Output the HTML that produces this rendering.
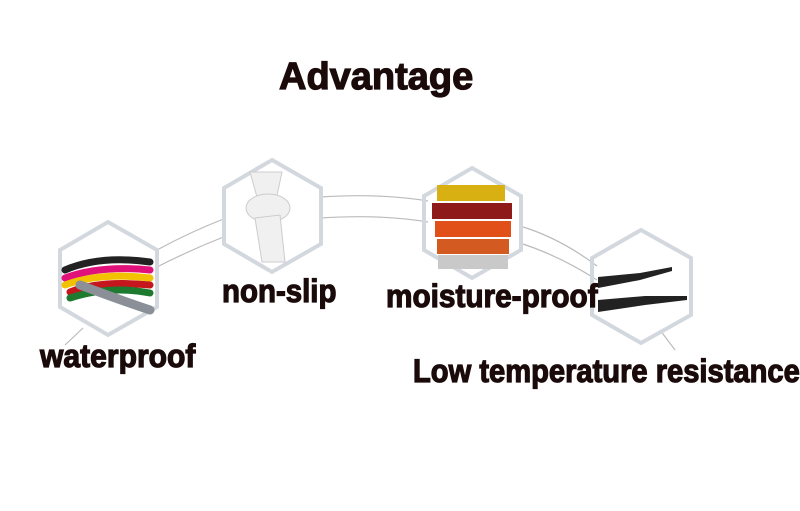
<!DOCTYPE html>
<html><head><style>
body{margin:0;width:800px;height:511px;background:#fff;overflow:hidden;position:relative;font-family:"Liberation Sans",sans-serif}
.t{position:absolute;font-weight:bold;color:#1a0a0a;white-space:nowrap;transform-origin:0 0;-webkit-text-stroke:1.2px #1a0a0a}
</style></head><body>
<svg width="800" height="511" style="position:absolute;left:0;top:0">
<g fill="none" stroke="#bbb" stroke-width="1.2">
<path d="M157,250 Q190,232 226,218"/>
<path d="M155,268 Q190,250 226,236"/>
<path d="M320,197 Q380,193 428,201"/>
<path d="M320,218 Q380,214 428,222"/>
<path d="M520,226 Q560,238 597,266"/>
<path d="M520,243 Q560,256 597,280"/>
<path d="M83,328 L65,345"/>
<path d="M660,330 L675,350"/>
</g>
<g fill="none" stroke="#d3d8df" stroke-width="4">
<polygon points="108,222 157,250 157,307 108,335 60,307 60,250"/>
<polygon points="272,160 321,188 321,244 272,272 224,244 224,188"/>
<polygon points="472,168 521,196 521,250 472,278 424,250 424,196"/>
<polygon points="641,230 691,258 691,315 641,343 592,315 592,258"/>
</g>
<g stroke-width="7" fill="none" stroke-linecap="round">
<path d="M65,270 Q100,255 150,262" stroke="#222"/>
<path d="M65,278 Q100,265 150,270" stroke="#e0117a"/>
<path d="M65,285 Q100,272 150,278" stroke="#f2c200"/>
<path d="M70,292 Q100,280 150,285" stroke="#c4161c"/>
<path d="M70,298 Q110,285 150,293" stroke="#1e7a2e"/>
<path d="M80,285 Q120,300 150,310" stroke="#8a8f98" stroke-width="9"/>
</g>
<g fill="#f0f0f0" stroke="#ccc">
<path d="M250,172 L282,172 L276,200 L262,215 Z"/>
<ellipse cx="268" cy="208" rx="22" ry="14"/>
<path d="M255,218 L280,215 L285,262 L262,262 Z"/>
</g>
<rect x="437" y="185" width="68" height="16" fill="#d9b012"/>
<rect x="432" y="203" width="80" height="16" fill="#8f1a1a"/>
<rect x="435" y="221" width="76" height="16" fill="#e05018"/>
<rect x="437" y="239" width="72" height="15" fill="#d35a20"/>
<rect x="438" y="255" width="70" height="14" fill="#c9c9c9"/>
<path d="M598,277 L640,273 L672,267 L672,271 L640,280 L598,288 Z" fill="#222"/>
<path d="M598,300 L645,296 L687,296 L687,300 L645,305 L598,312 Z" fill="#222"/>
</svg>
<div class="t" style="left:279px;top:56px;font-size:38px;transform:scaleX(1.0)">Advantage</div>
<div class="t" style="left:222px;top:273px;font-size:32px;transform:scaleX(0.92)">non-slip</div>
<div class="t" style="left:386px;top:278px;font-size:32px;transform:scaleX(0.93)">moisture-proof</div>
<div class="t" style="left:40px;top:338px;font-size:32px;transform:scaleX(0.94)">waterproof</div>
<div class="t" style="left:413px;top:353px;font-size:32px;transform:scaleX(0.91)">Low temperature resistance</div>
</body></html>
